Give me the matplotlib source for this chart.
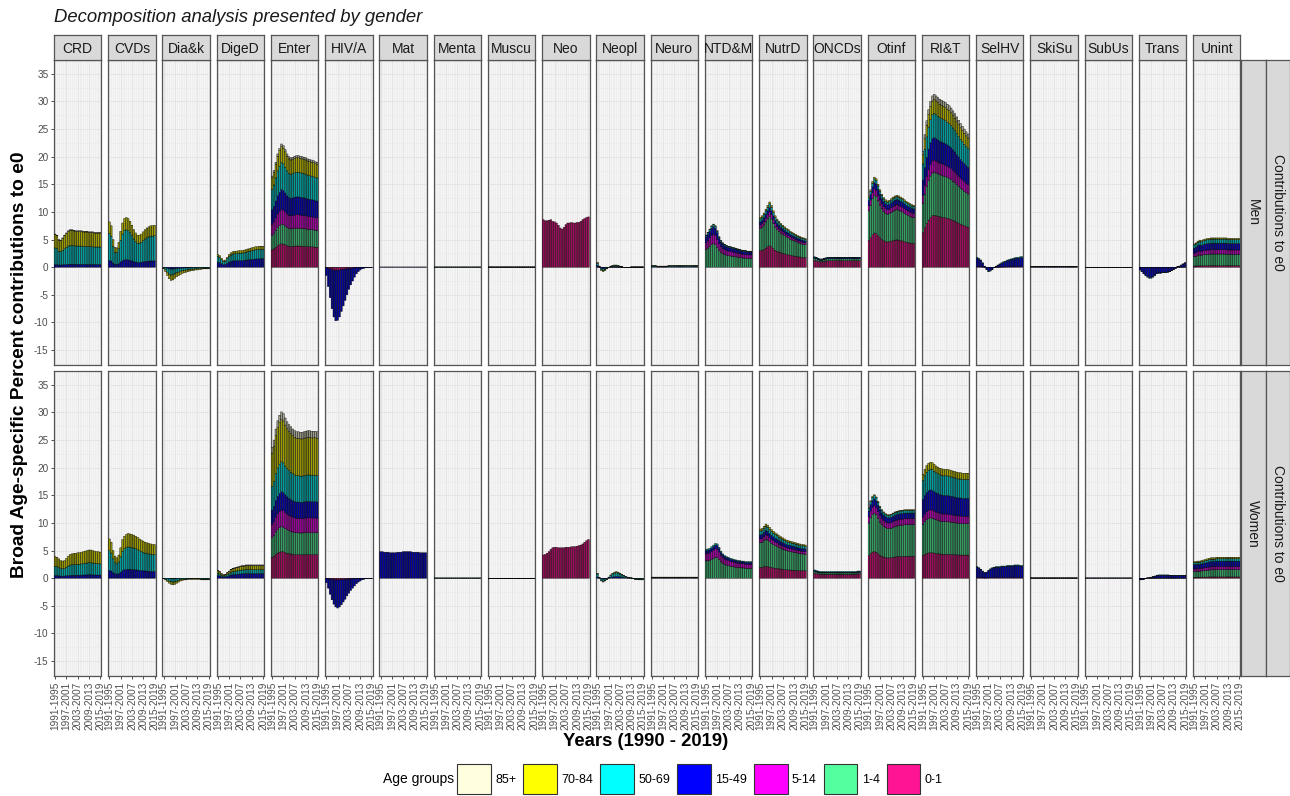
import matplotlib
matplotlib.use('Agg')
import matplotlib.pyplot as plt
from matplotlib.colors import to_rgb
from matplotlib.patches import Patch
import numpy as np

plt.rcParams['font.family'] = ['Liberation Sans', 'DejaVu Sans']

# five-year moving windows 1991-1995 ... 2015-2019
periods = ['%d-%d' % (y, y + 4) for y in range(1991, 2016)]
period_labels = ['1991-1995', '1997-2001', '2003-2007', '2009-2013', '2015-2019']

causes = ['CRD', 'CVDs', 'Dia&k', 'DigeD', 'Enter', 'HIV/A', 'Mat', 'Menta',
          'Muscu', 'Neo', 'Neopl', 'Neuro', 'NTD&M', 'NutrD', 'ONCDs', 'Otinf',
          'RI&T', 'SelHV', 'SkiSu', 'SubUs', 'Trans', 'Unint']

age_groups = ['0-1', '1-4', '5-14', '15-49', '50-69', '70-84', '85+']
age_colours = ['#FF1493', '#54FF9F', '#FF00FF', '#0000FF', '#00FFFF', '#FFFF00', '#FFFFE0']

# total contribution (percent) of each cause per period
men_totals = {
    'CRD':   [6.0, 5.8, 5.0, 4.9, 5.3, 5.8, 6.2, 6.6, 6.8, 6.8, 6.7, 6.6, 6.6, 6.6, 6.6, 6.5, 6.5, 6.5, 6.4, 6.4, 6.4, 6.3, 6.3, 6.3, 6.3],
    'CVDs':  [8.2, 7.5, 5.0, 3.6, 3.5, 4.5, 6.5, 8.0, 8.8, 9.0, 8.8, 8.3, 7.6, 6.8, 6.2, 5.8, 5.8, 6.0, 6.4, 6.8, 7.1, 7.3, 7.5, 7.5, 7.6],
    'Dia&k': [-0.3, -0.8, -1.5, -2.1, -2.4, -2.3, -2.0, -1.7, -1.5, -1.3, -1.1, -1.0, -0.9, -0.8, -0.7, -0.6, -0.6, -0.5, -0.5, -0.4, -0.4, -0.3, -0.3, -0.3, -0.3],
    'DigeD': [2.3, 2.1, 1.6, 1.2, 1.3, 1.8, 2.3, 2.6, 2.8, 2.9, 2.9, 3.0, 3.0, 3.0, 3.1, 3.2, 3.3, 3.4, 3.5, 3.6, 3.7, 3.7, 3.8, 3.8, 3.8],
    'Enter': [16.5, 17.5, 19.0, 20.5, 21.5, 22.3, 22.0, 21.3, 20.5, 20.0, 19.8, 19.9, 20.1, 20.2, 20.2, 20.1, 20.0, 19.9, 19.8, 19.6, 19.5, 19.4, 19.3, 19.1, 19.0],
    'HIV/A': [-1.5, -3.5, -5.5, -7.5, -9.0, -9.7, -9.6, -9.0, -8.0, -7.0, -6.0, -5.0, -4.0, -3.2, -2.5, -1.8, -1.2, -0.8, -0.5, -0.3, -0.2, -0.1, -0.1, -0.1, -0.1],
    'Mat':   [0.05, 0.05, 0.05, 0.05, 0.05, 0.05, 0.05, 0.05, 0.05, 0.05, 0.05, 0.05, 0.05, 0.05, 0.05, 0.05, 0.05, 0.05, 0.05, 0.05, 0.05, 0.05, 0.05, 0.05, 0.05],
    'Menta': [0.05, 0.05, 0.05, 0.05, 0.05, 0.05, 0.05, 0.05, 0.05, 0.05, 0.05, 0.05, 0.05, 0.05, 0.05, 0.05, 0.05, 0.05, 0.05, 0.05, 0.05, 0.05, 0.05, 0.05, 0.05],
    'Muscu': [0.05, 0.05, 0.05, 0.05, 0.05, 0.05, 0.05, 0.05, 0.05, 0.05, 0.05, 0.05, 0.05, 0.05, 0.05, 0.05, 0.05, 0.05, 0.05, 0.05, 0.05, 0.05, 0.05, 0.05, 0.05],
    'Neo':   [8.6, 8.4, 8.4, 8.5, 8.6, 8.3, 8.2, 8.0, 7.6, 7.1, 6.9, 7.2, 7.7, 8.0, 8.0, 8.1, 8.0, 8.0, 8.1, 8.1, 8.3, 8.6, 8.8, 9.0, 9.1],
    'Neopl': [0.9, 0.2, -0.6, -0.8, -0.6, -0.3, 0.0, 0.2, 0.3, 0.4, 0.4, 0.3, 0.2, 0.1, 0.0, -0.1, -0.1, -0.1, 0.05, 0.05, 0.05, 0.05, 0.05, 0.05, 0.05],
    'Neuro': [0.3, 0.3, 0.3, 0.2, 0.2, 0.2, 0.2, 0.2, 0.2, 0.3, 0.3, 0.3, 0.3, 0.3, 0.3, 0.3, 0.3, 0.3, 0.3, 0.3, 0.3, 0.3, 0.3, 0.3, 0.3],
    'NTD&M': [5.8, 6.3, 6.9, 7.5, 7.8, 7.5, 6.6, 5.5, 4.8, 4.4, 4.1, 3.9, 3.8, 3.7, 3.6, 3.5, 3.4, 3.3, 3.2, 3.1, 3.0, 3.0, 2.9, 2.9, 2.9],
    'NutrD': [9.0, 9.3, 9.8, 10.5, 11.2, 11.8, 11.2, 10.2, 9.3, 8.7, 8.3, 7.9, 7.6, 7.3, 7.0, 6.8, 6.5, 6.3, 6.1, 5.9, 5.7, 5.6, 5.4, 5.3, 5.2],
    'ONCDs': [1.9, 1.8, 1.6, 1.5, 1.5, 1.6, 1.7, 1.8, 1.8, 1.8, 1.8, 1.8, 1.8, 1.8, 1.8, 1.8, 1.8, 1.8, 1.8, 1.8, 1.8, 1.8, 1.8, 1.8, 1.8],
    'Otinf': [12.8, 14.0, 15.5, 16.3, 16.0, 15.0, 14.0, 13.2, 12.6, 12.2, 12.0, 12.1, 12.4, 12.7, 12.9, 13.0, 12.9, 12.7, 12.5, 12.2, 11.9, 11.7, 11.5, 11.3, 11.2],
    'RI&T':  [21.0, 24.0, 26.5, 28.5, 30.0, 31.0, 31.3, 31.0, 30.7, 30.4, 30.2, 30.0, 29.8, 29.5, 29.2, 28.8, 28.3, 27.8, 27.2, 26.6, 26.0, 25.5, 25.0, 24.5, 24.1],
    'SelHV': [1.8, 1.6, 1.3, 0.8, 0.2, -0.4, -0.8, -0.7, -0.4, -0.1, 0.2, 0.4, 0.6, 0.8, 1.0, 1.1, 1.3, 1.4, 1.5, 1.6, 1.7, 1.8, 1.8, 1.9, 1.9],
    'SkiSu': [0.1, 0.1, 0.1, 0.1, 0.1, 0.1, 0.1, 0.1, 0.1, 0.1, 0.1, 0.1, 0.1, 0.1, 0.1, 0.1, 0.1, 0.1, 0.1, 0.1, 0.1, 0.1, 0.1, 0.1, 0.1],
    'SubUs': [-0.05, -0.05, -0.05, -0.1, -0.1, -0.1, -0.1, -0.05, -0.05, -0.05, -0.05, -0.05, -0.05, -0.05, -0.05, -0.05, -0.05, -0.05, -0.05, -0.05, -0.05, -0.05, -0.05, -0.05, -0.05],
    'Trans': [-0.5, -0.8, -1.2, -1.5, -1.8, -2.0, -2.0, -1.8, -1.5, -1.2, -1.1, -1.1, -1.0, -1.0, -1.0, -0.9, -0.8, -0.6, -0.4, -0.2, 0.1, 0.2, 0.4, 0.6, 0.8],
    'Unint': [4.2, 4.4, 4.7, 4.9, 4.8, 5.0, 5.1, 5.2, 5.2, 5.3, 5.3, 5.3, 5.3, 5.3, 5.3, 5.3, 5.3, 5.3, 5.2, 5.2, 5.2, 5.2, 5.2, 5.2, 5.2],
}

women_totals = {
    'CRD':   [3.9, 3.8, 3.5, 3.2, 3.1, 3.2, 3.6, 4.0, 4.3, 4.4, 4.5, 4.5, 4.6, 4.6, 4.7, 4.8, 4.9, 5.0, 5.1, 5.1, 5.0, 4.9, 4.8, 4.8, 4.7],
    'CVDs':  [7.1, 6.5, 5.0, 4.0, 3.7, 4.2, 5.5, 7.0, 7.6, 7.9, 8.1, 8.0, 7.9, 7.8, 7.6, 7.4, 7.1, 6.9, 6.7, 6.5, 6.4, 6.3, 6.2, 6.1, 6.1],
    'Dia&k': [-0.1, -0.3, -0.6, -0.9, -1.1, -1.2, -1.1, -0.9, -0.7, -0.5, -0.4, -0.3, -0.3, -0.2, -0.2, -0.2, -0.2, -0.2, -0.2, -0.2, -0.3, -0.3, -0.3, -0.3, -0.3],
    'DigeD': [1.4, 1.2, 0.8, 0.6, 0.7, 1.0, 1.3, 1.6, 1.8, 1.9, 2.0, 2.1, 2.2, 2.3, 2.3, 2.4, 2.4, 2.4, 2.4, 2.4, 2.4, 2.4, 2.4, 2.4, 2.4],
    'Enter': [23.7, 25.0, 27.0, 28.5, 29.5, 30.1, 29.8, 29.0, 28.3, 27.8, 27.4, 27.0, 26.7, 26.5, 26.5, 26.4, 26.4, 26.5, 26.6, 26.7, 26.7, 26.6, 26.6, 26.6, 26.5],
    'HIV/A': [-0.8, -1.8, -2.9, -3.9, -4.7, -5.2, -5.4, -5.2, -4.8, -4.3, -3.8, -3.2, -2.7, -2.2, -1.8, -1.4, -1.0, -0.7, -0.5, -0.3, -0.2, -0.1, -0.1, -0.1, -0.1],
    'Mat':   [4.8, 4.8, 4.7, 4.7, 4.7, 4.6, 4.6, 4.6, 4.6, 4.7, 4.7, 4.7, 4.8, 4.8, 4.8, 4.8, 4.8, 4.7, 4.7, 4.7, 4.7, 4.6, 4.6, 4.6, 4.6],
    'Menta': [0.05, 0.05, 0.05, 0.05, 0.05, 0.05, 0.05, 0.05, 0.05, 0.05, 0.05, 0.05, 0.05, 0.05, 0.05, 0.05, 0.05, 0.05, 0.05, 0.05, 0.05, 0.05, 0.05, 0.05, 0.05],
    'Muscu': [-0.05, -0.05, -0.05, -0.05, -0.05, -0.05, -0.05, -0.05, -0.05, -0.05, -0.05, -0.05, -0.05, -0.05, -0.05, -0.05, -0.05, -0.05, -0.05, -0.05, -0.05, -0.05, -0.05, -0.05, -0.05],
    'Neo':   [4.2, 4.3, 4.5, 4.8, 5.2, 5.5, 5.6, 5.6, 5.5, 5.5, 5.5, 5.5, 5.6, 5.6, 5.6, 5.7, 5.7, 5.7, 5.8, 5.9, 6.0, 6.2, 6.5, 6.8, 7.0],
    'Neopl': [0.9, 0.1, -0.5, -0.7, -0.5, -0.2, 0.2, 0.6, 0.9, 1.1, 1.2, 1.1, 0.9, 0.7, 0.5, 0.3, 0.2, 0.1, 0.05, -0.1, -0.2, -0.2, -0.3, -0.3, -0.3],
    'Neuro': [0.2, 0.2, 0.2, 0.2, 0.2, 0.2, 0.2, 0.2, 0.2, 0.2, 0.2, 0.2, 0.2, 0.2, 0.2, 0.2, 0.2, 0.2, 0.2, 0.2, 0.2, 0.2, 0.2, 0.2, 0.2],
    'NTD&M': [5.2, 5.3, 5.4, 5.7, 6.0, 6.3, 6.2, 5.6, 4.9, 4.4, 4.1, 3.9, 3.8, 3.6, 3.5, 3.4, 3.3, 3.2, 3.2, 3.1, 3.1, 3.0, 3.0, 3.0, 3.0],
    'NutrD': [8.9, 9.0, 9.4, 9.8, 9.6, 9.2, 8.8, 8.5, 8.2, 8.0, 7.7, 7.5, 7.3, 7.1, 6.9, 6.8, 6.7, 6.6, 6.5, 6.4, 6.3, 6.2, 6.1, 6.1, 6.0],
    'ONCDs': [1.5, 1.4, 1.3, 1.2, 1.2, 1.2, 1.2, 1.2, 1.2, 1.2, 1.2, 1.2, 1.2, 1.2, 1.2, 1.2, 1.2, 1.2, 1.2, 1.2, 1.2, 1.2, 1.2, 1.3, 1.3],
    'Otinf': [12.8, 14.0, 14.8, 15.1, 14.7, 13.9, 13.0, 12.4, 12.0, 11.7, 11.5, 11.5, 11.6, 11.8, 12.0, 12.1, 12.2, 12.3, 12.3, 12.4, 12.4, 12.4, 12.4, 12.4, 12.4],
    'RI&T':  [18.8, 19.7, 20.4, 20.8, 21.0, 20.9, 20.6, 20.3, 20.1, 19.9, 19.8, 19.7, 19.7, 19.7, 19.6, 19.5, 19.4, 19.3, 19.2, 19.1, 19.1, 19.0, 19.0, 19.0, 19.0],
    'SelHV': [2.1, 1.9, 1.6, 1.3, 1.0, 1.1, 1.4, 1.7, 1.9, 2.0, 2.1, 2.1, 2.1, 2.2, 2.2, 2.2, 2.3, 2.3, 2.3, 2.3, 2.4, 2.4, 2.4, 2.3, 2.3],
    'SkiSu': [0.05, 0.05, 0.05, 0.05, 0.05, 0.05, 0.05, 0.05, 0.05, 0.05, 0.05, 0.05, 0.05, 0.05, 0.05, 0.05, 0.05, 0.05, 0.05, 0.05, 0.05, 0.05, 0.05, 0.05, 0.05],
    'SubUs': [0.05, 0.05, 0.05, 0.05, 0.05, 0.05, 0.05, 0.05, 0.05, 0.05, 0.05, 0.05, 0.05, 0.05, 0.05, 0.05, 0.05, 0.05, 0.05, 0.05, 0.05, 0.05, 0.05, 0.05, 0.05],
    'Trans': [-0.3, -0.3, -0.2, -0.1, 0.05, 0.1, 0.2, 0.3, 0.4, 0.5, 0.6, 0.6, 0.6, 0.6, 0.6, 0.6, 0.5, 0.5, 0.5, 0.5, 0.5, 0.5, 0.5, 0.5, 0.5],
    'Unint': [3.0, 3.0, 3.1, 3.1, 3.2, 3.3, 3.4, 3.5, 3.6, 3.7, 3.7, 3.7, 3.8, 3.8, 3.8, 3.8, 3.8, 3.8, 3.8, 3.8, 3.8, 3.8, 3.8, 3.8, 3.8],
}

# share of each age group (0-1 ... 85+) in the cause total
men_shares = {
    'CRD':   [0, 0, 0, 0.08, 0.50, 0.40, 0.02],
    'CVDs':  [0, 0, 0, 0.15, 0.60, 0.25, 0],
    'Dia&k': [0, 0, 0, 0.15, 0.45, 0.40, 0],
    'DigeD': [0, 0, 0, 0.40, 0.45, 0.15, 0],
    'Enter': [0.19, 0.16, 0.12, 0.16, 0.22, 0.13, 0.02],
    'HIV/A': [0.06, 0, 0, 0.94, 0, 0, 0],
    'Mat':   [0, 0, 0, 1.0, 0, 0, 0],
    'Menta': [0, 0, 0, 0.5, 0.5, 0, 0],
    'Muscu': [0, 0, 0, 0.3, 0.4, 0.3, 0],
    'Neo':   [1.0, 0, 0, 0, 0, 0, 0],
    'Neopl': [0, 0, 0.05, 0.30, 0.45, 0.20, 0],
    'Neuro': [0, 0, 0, 0.3, 0.5, 0.2, 0],
    'NTD&M': [0, 0.55, 0.22, 0.17, 0.05, 0.01, 0],
    'NutrD': [0.33, 0.45, 0.07, 0.06, 0.06, 0.03, 0],
    'ONCDs': [0.65, 0.20, 0, 0.10, 0.05, 0, 0],
    'Otinf': [0.38, 0.42, 0.07, 0.07, 0.04, 0.02, 0],
    'RI&T':  [0.30, 0.25, 0.07, 0.13, 0.14, 0.08, 0.03],
    'SelHV': [0, 0, 0.05, 0.85, 0.10, 0, 0],
    'SkiSu': [0, 0, 0, 0.5, 0.3, 0.2, 0],
    'SubUs': [0, 0, 0, 0.7, 0.3, 0, 0],
    'Trans': [0.05, 0, 0, 0.90, 0.05, 0, 0],
    'Unint': [0.05, 0.40, 0.15, 0.22, 0.14, 0.04, 0],
}

women_shares = {
    'CRD':   [0, 0, 0, 0.12, 0.43, 0.45, 0],
    'CVDs':  [0, 0, 0, 0.20, 0.50, 0.30, 0],
    'Dia&k': [0, 0, 0, 0.10, 0.50, 0.40, 0],
    'DigeD': [0, 0, 0, 0.35, 0.30, 0.30, 0.05],
    'Enter': [0.16, 0.15, 0.10, 0.11, 0.18, 0.255, 0.045],
    'HIV/A': [0.06, 0, 0, 0.94, 0, 0, 0],
    'Mat':   [0, 0, 0, 1.0, 0, 0, 0],
    'Menta': [0, 0, 0, 0.5, 0.5, 0, 0],
    'Muscu': [0, 0, 0, 0.3, 0.4, 0.3, 0],
    'Neo':   [1.0, 0, 0, 0, 0, 0, 0],
    'Neopl': [0, 0, 0, 0.25, 0.60, 0.15, 0],
    'Neuro': [0, 0, 0, 0.3, 0.5, 0.2, 0],
    'NTD&M': [0, 0.60, 0.25, 0.10, 0.05, 0, 0],
    'NutrD': [0.22, 0.50, 0.08, 0.08, 0.08, 0.04, 0],
    'ONCDs': [0.60, 0.20, 0, 0.10, 0.10, 0, 0],
    'Otinf': [0.32, 0.46, 0.09, 0.08, 0.04, 0.01, 0],
    'RI&T':  [0.22, 0.30, 0.07, 0.17, 0.18, 0.06, 0],
    'SelHV': [0, 0, 0.05, 0.90, 0.05, 0, 0],
    'SkiSu': [0, 0, 0, 0.5, 0.3, 0.2, 0],
    'SubUs': [0, 0, 0, 0.7, 0.3, 0, 0],
    'Trans': [0.05, 0, 0, 0.85, 0.10, 0, 0],
    'Unint': [0.06, 0.35, 0.15, 0.25, 0.12, 0.07, 0],
}

rows = [('Men', men_totals, men_shares), ('Women', women_totals, women_shares)]

W, H = 1290, 796
fig = plt.figure(figsize=(W / 100, H / 100), dpi=100)


def px_axes(x0, y0, x1, y1):
    # axes from pixel box (top-left origin)
    return fig.add_axes([x0 / W, 1 - y1 / H, (x1 - x0) / W, (y1 - y0) / H])


def strip_axes(x0, y0, x1, y1):
    sax = px_axes(x0, y0, x1, y1)
    sax.set_xticks([])
    sax.set_yticks([])
    sax.set_facecolor('#d9d9d9')
    for s in sax.spines.values():
        s.set_color('#555555')
        s.set_linewidth(0.9)
    return sax


def draw_stack(ax, totals, shares):
    # narrow bars with black outlines read as darker shades of the fill
    x = np.arange(1, len(periods) + 1)
    totals = np.asarray(totals, dtype=float)
    up = np.zeros(len(x))
    down = np.zeros(len(x))
    for share, col in zip(shares, age_colours):
        if share == 0:
            continue
        vals = totals * share
        base = np.where(vals >= 0, up, down)
        face = tuple(np.array(to_rgb(col)) * 0.62)
        bars = ax.bar(x, vals, bottom=base, width=0.9, color=face,
                      edgecolor='black', linewidth=0.3, zorder=3)
        for b in bars:
            b.set_snap(False)
        up += np.clip(vals, 0, None)
        down += np.clip(vals, None, 0)


left0, pitch, pw = 54, 54.24, 47.4
row_y = [(60, 365), (371, 676)]
label_pos = [periods.index(p) + 1 for p in period_labels]

for r, (sex, totals, shares) in enumerate(rows):
    y0, y1 = row_y[r]
    for c, cause in enumerate(causes):
        x0 = left0 + c * pitch
        ax = px_axes(x0, y0, x0 + pw, y1)
        ax.set_facecolor('#f5f5f5')
        draw_stack(ax, totals[cause], shares[cause])
        ax.set_xlim(0.4, len(periods) + 0.6)
        ax.set_ylim(-17.7, 37.5)
        ax.set_yticks(np.arange(-15, 36, 5))
        ax.set_yticks(np.arange(-17.5, 37.6, 5), minor=True)
        ax.set_xticks(label_pos)
        ax.set_xticks(np.arange(1, len(periods) + 1), minor=True)
        ax.grid(which='major', color='#e4e4e4', linewidth=0.7, zorder=0)
        ax.grid(which='minor', color='#e9e9e9', linewidth=0.4, zorder=0)
        ax.set_axisbelow(True)
        ax.tick_params(which='minor', length=0)
        ax.tick_params(which='major', length=2.5, width=0.6, color='#333333',
                       labelsize=7.2, labelcolor='#4d4d4d', pad=1.5)
        for s in ax.spines.values():
            s.set_color('#555555')
            s.set_linewidth(0.9)
        if c == 0:
            ax.set_yticklabels([str(v) for v in range(-15, 36, 5)])
        else:
            ax.tick_params(axis='y', left=False, labelleft=False)
        if r == 1:
            ax.set_xticklabels(period_labels, rotation=90, ha='center', va='top')
        else:
            ax.tick_params(axis='x', bottom=False, labelbottom=False)
        # cause strip along the top row
        if r == 0:
            sax = strip_axes(x0, 35, x0 + pw, 60)
            sax.text(0.5, 0.45, cause, ha='center', va='center', fontsize=10,
                     color='#1a1a1a', transform=sax.transAxes)
    # sex strips on the right
    for (sx0, sx1, txt) in [(1241, 1265.5, sex), (1265.5, 1290, 'Contributions to e0')]:
        sax = strip_axes(sx0, y0, sx1, y1)
        sax.text(0.5, 0.5, txt, ha='center', va='center', rotation=-90,
                 fontsize=10, color='#1a1a1a', transform=sax.transAxes)

fig.text(54 / W, 1 - 18 / H, 'Decomposition analysis presented by gender',
         ha='left', va='center', fontsize=13.3, style='italic', color='#1a1a1a')
fig.text(20 / W, 1 - 365 / H, 'Broad Age-specific Percent contributions to e0',
         ha='center', va='center', rotation=90, fontsize=13.8, fontweight='bold')
fig.text(646 / W, 1 - 742 / H, 'Years (1990 - 2019)', ha='center', va='center',
         fontsize=13.3, fontweight='bold')

# legend: 85+ first, as in the fill scale
handles = [Patch(facecolor=col, edgecolor='#333333', linewidth=0.8)
           for col in age_colours[::-1]]
fig.text(383 / W, 1 - 779 / H, 'Age groups', ha='left', va='center', fontsize=10)
fig.legend(handles, age_groups[::-1], loc='center left',
           bbox_to_anchor=(457 / W, 1 - 779 / H), ncol=7, frameon=False,
           fontsize=9, handlelength=2.7, handleheight=3.3, handletextpad=0.35,
           columnspacing=0.55, borderpad=0, borderaxespad=0)

fig.savefig('out.png', dpi=100, facecolor='white')
